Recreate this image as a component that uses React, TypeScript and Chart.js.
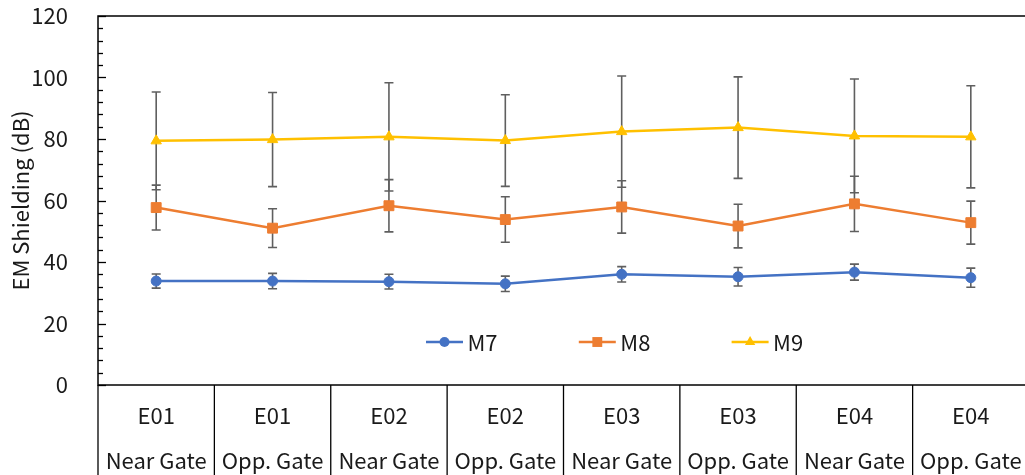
import React, { useEffect, useRef } from "react";
import { Chart, registerables } from "chart.js";

Chart.register(...registerables);

// ---- data ----
const categories: string[][] = [
  ["E01", "Near Gate"],
  ["E01", "Opp. Gate"],
  ["E02", "Near Gate"],
  ["E02", "Opp. Gate"],
  ["E03", "Near Gate"],
  ["E03", "Opp. Gate"],
  ["E04", "Near Gate"],
  ["E04", "Opp. Gate"],
];

const seriesNames = ["M7", "M8", "M9"];

const m7 = [33.8, 33.8, 33.6, 32.9, 36.0, 35.2, 36.7, 34.9];
const m7Err = [2.3, 2.5, 2.4, 2.5, 2.5, 3.0, 2.6, 3.1];

const m8 = [57.7, 51.0, 58.3, 53.8, 57.9, 51.7, 58.9, 52.8];
const m8Err = [7.3, 6.3, 8.5, 7.4, 8.5, 7.1, 9.0, 7.0];

const m9 = [79.4, 79.8, 80.7, 79.5, 82.4, 83.7, 81.0, 80.7];
const m9Err = [15.9, 15.3, 17.6, 14.9, 18.1, 16.5, 18.5, 16.6];

const yMin = 0;
const yMax = 120;
const yMajorStep = 20;
const yMinorStep = 4;
const yTitle = "EM Shielding (dB)";

// ---- styles ----
const FONT = "'Noto Sans CJK KR', 'Noto Sans', sans-serif";
const FS = 22;
const TEXT = "#1a1a1a";
const colors = ["#4472C4", "#ED7D31", "#FFC000"];
const pointStyles = ["circle", "rect", "triangle"];
const pointRadii = [5, 7, 6];
const seriesValues = [m7, m8, m9];
const seriesErrors = [m7Err, m8Err, m9Err];

function drawMarker(ctx: CanvasRenderingContext2D, style: string, x: number, y: number, r: number) {
  ctx.beginPath();
  if (style === "circle") {
    ctx.arc(x, y, r, 0, Math.PI * 2);
  } else if (style === "rect") {
    const s = r / Math.SQRT2;
    ctx.rect(x - s, y - s, 2 * s, 2 * s);
  } else {
    const h = r * 1.5;
    const w = r * Math.sin(Math.PI / 3);
    ctx.moveTo(x, y - r);
    ctx.lineTo(x + w, y + h - r);
    ctx.lineTo(x - w, y + h - r);
    ctx.closePath();
  }
  ctx.fill();
}

export default function App() {
  const ref = useRef<HTMLCanvasElement>(null);

  useEffect(() => {
    const canvas = ref.current;
    if (!canvas) return;

    const decor = {
      id: "decor",
      beforeDatasetsDraw(chart: any) {
        const { ctx, chartArea, scales } = chart;
        const ys = scales.y;
        const xs = scales.x;
        ctx.save();
        // frame
        ctx.strokeStyle = "#000";
        ctx.lineWidth = 1.5;
        ctx.strokeRect(chartArea.left, chartArea.top, chartArea.right - chartArea.left, chartArea.bottom - chartArea.top);
        // y ticks (major + minor), inward
        ctx.lineWidth = 1.3;
        for (let v = yMin; v <= yMax; v += yMinorStep) {
          const py = Math.round(ys.getPixelForValue(v)) + 0.5;
          const len = v % yMajorStep === 0 ? 8 : 5;
          ctx.beginPath();
          ctx.moveTo(chartArea.left, py);
          ctx.lineTo(chartArea.left + len, py);
          ctx.stroke();
        }
        // category separators below the axis
        const n = categories.length;
        const w = (chartArea.right - chartArea.left) / n;
        for (let i = 0; i <= n; i++) {
          const px = i < n ? xs.getPixelForValue(i) - w / 2 : xs.getPixelForValue(n - 1) + w / 2;
          ctx.beginPath();
          ctx.moveTo(px, chartArea.bottom);
          ctx.lineTo(px, chart.height);
          ctx.stroke();
        }
        // error bars
        ctx.strokeStyle = "#5f5f5f";
        ctx.lineWidth = 1.6;
        seriesValues.forEach((vals, d) => {
          const meta = chart.getDatasetMeta(d);
          vals.forEach((v, i) => {
            const e = seriesErrors[d][i];
            const px = meta.data[i].x;
            const top = ys.getPixelForValue(v + e);
            const bot = ys.getPixelForValue(v - e);
            ctx.beginPath();
            ctx.moveTo(px, top);
            ctx.lineTo(px, bot);
            ctx.moveTo(px - 4.5, top);
            ctx.lineTo(px + 4.5, top);
            ctx.moveTo(px - 4.5, bot);
            ctx.lineTo(px + 4.5, bot);
            ctx.stroke();
          });
        });
        ctx.restore();
      },
      afterDraw(chart: any) {
        const { ctx } = chart;
        ctx.save();
        const startX = 426;
        const step = 152.8;
        const ly = 342;
        ctx.font = `${FS}px ${FONT}`;
        ctx.textBaseline = "middle";
        ctx.textAlign = "left";
        seriesNames.forEach((name, d) => {
          const x0 = startX + d * step;
          ctx.strokeStyle = colors[d];
          ctx.lineWidth = 2.5;
          ctx.beginPath();
          ctx.moveTo(x0, ly);
          ctx.lineTo(x0 + 37, ly);
          ctx.stroke();
          ctx.fillStyle = colors[d];
          drawMarker(ctx, pointStyles[d], x0 + 18.5, ly, pointRadii[d]);
          ctx.fillStyle = TEXT;
          ctx.fillText(name, x0 + 41.5, ly + 1);
        });
        ctx.restore();
      },
    };

    const chart = new Chart(canvas, {
      type: "line",
      data: {
        labels: categories,
        datasets: seriesNames.map((name, d) => ({
          label: name,
          data: seriesValues[d],
          borderColor: colors[d],
          backgroundColor: colors[d],
          pointBackgroundColor: colors[d],
          pointBorderColor: colors[d],
          pointStyle: pointStyles[d] as any,
          pointRadius: pointRadii[d],
          pointBorderWidth: 1,
          borderWidth: 2.5,
          tension: 0,
          fill: false,
        })),
      },
      options: {
        responsive: false,
        animation: false,
        devicePixelRatio: 1,
        layout: { padding: { top: 16, right: 11, left: 0, bottom: 0 } },
        plugins: {
          legend: { display: false },
          tooltip: { enabled: false },
        },
        scales: {
          x: {
            type: "category",
            offset: true,
            grid: { display: false },
            border: { display: false },
            ticks: {
              autoSkip: false,
              maxRotation: 0,
              padding: 0,
              color: TEXT,
              font: { family: FONT, size: FS, lineHeight: 45 / FS },
            },
            afterFit(s: any) {
              s.height = 90;
              s.paddingLeft = 0;
              s.paddingRight = 0;
            },
          },
          y: {
            min: yMin,
            max: yMax,
            grid: { display: false },
            border: { display: false },
            ticks: {
              stepSize: yMajorStep,
              padding: 22,
              color: TEXT,
              font: { family: FONT, size: FS },
            },
            title: {
              display: true,
              text: yTitle,
              color: TEXT,
              font: { family: FONT, size: FS },
              padding: { top: 7, bottom: 0 },
            },
            afterFit(s: any) {
              s.width = 98;
              s.paddingTop = 0;
              s.paddingBottom = 0;
            },
          },
        },
      },
      plugins: [decor],
    });

    return () => chart.destroy();
  }, []);

  return (
    <div
      style={{
        position: "fixed",
        left: 0,
        top: 0,
        width: 1025,
        height: 475,
        overflow: "hidden",
        background: "#fff",
      }}
    >
      <canvas ref={ref} width={1040} height={475} style={{ display: "block", width: 1040, height: 475 }} />
    </div>
  );
}
